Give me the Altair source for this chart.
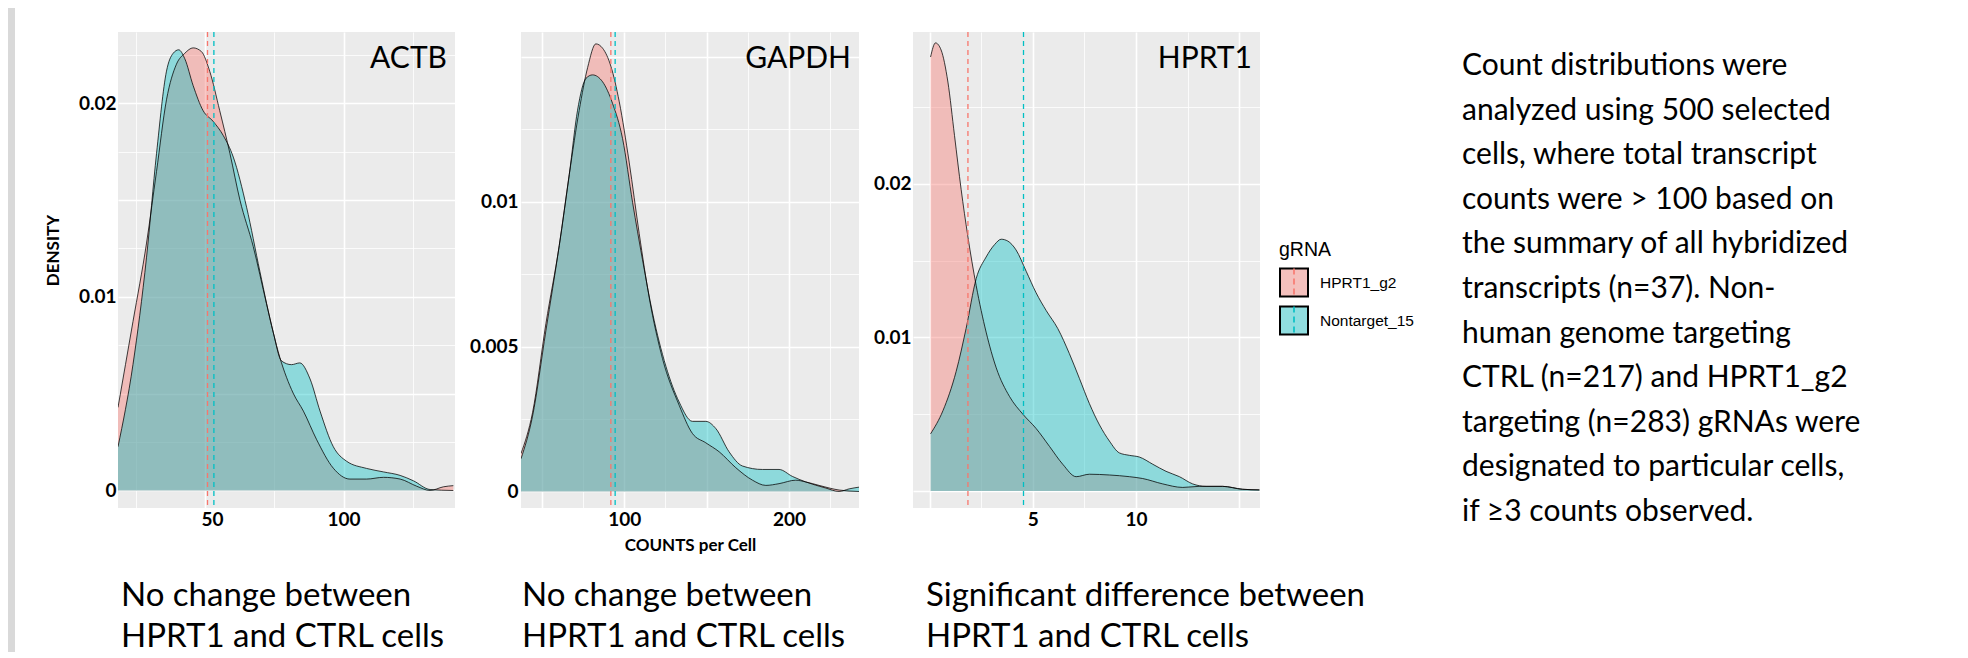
import altair as alt
import pandas as pd

GROUPS = ["HPRT1_g2", "Nontarget_15"]
LINE_COLORS = ["#F8766D", "#00BFC4"]
KEY_COLORS = ["#F4C0BD", "#91DEE0"]

# ---------------- ACTB ----------------
ACTB_H_X = [18.6, 24.0, 28.9, 32.5, 36.1, 39.7, 42.7, 45.7, 48.7, 51.7, 55.3, 59.0, 62.6, 67.4,
            72.2, 77.0, 81.8, 85.5, 90.3, 96.3, 102.3, 108.3, 114.4, 120.4, 126.4, 131.2, 136.0, 139.6]
ACTB_H_Y = [0.00429, 0.00872, 0.01278, 0.01648, 0.02018, 0.02202, 0.02258, 0.02286, 0.02267, 0.02165,
            0.01962, 0.0174, 0.015, 0.0126, 0.00964, 0.00687, 0.00503, 0.0041, 0.00262, 0.00115,
            0.00059, 0.00059, 0.00068, 0.00059, 0.00022, 0.0, 0.00019, 0.00025]
ACTB_N_X = [18.6, 24.0, 28.9, 32.5, 36.1, 38.5, 40.5, 42.7, 45.7, 49.3, 52.9, 56.6, 60.2, 65.0, 69.8,
            74.6, 77.6, 81.2, 84.2, 87.9, 91.5, 96.3, 101.1, 108.3, 114.4, 120.4, 125.2, 131.2, 139.6]
ACTB_N_Y = [0.00226, 0.0065, 0.01205, 0.0174, 0.02166, 0.02258, 0.02276, 0.0223, 0.02092, 0.01962,
            0.01907, 0.01833, 0.01722, 0.01463, 0.01131, 0.00817, 0.00669, 0.0065, 0.00659, 0.00576,
            0.0041, 0.00226, 0.00151, 0.00114, 0.00096, 0.00078, 0.0005, 0.00005, 0.0]
ACTB_MEANS = [50.9, 53.2]

# ---------------- GAPDH ----------------
GAPDH_H_X = [37.4, 44.4, 52.5, 60.6, 66.7, 72.7, 77.8, 82.8, 86.9, 91.9, 97.0, 103.0, 109.1, 115.2,
             123.2, 133.3, 141.4, 149.5, 157.6, 167.7, 177.8, 185.9, 193.9, 204.0, 210.1, 218.2, 230.3, 242.4]
GAPDH_H_Y = [0.00131, 0.00272, 0.00579, 0.00849, 0.01095, 0.01316, 0.01463, 0.01545, 0.0153, 0.01468,
             0.01345, 0.01137, 0.0089, 0.00668, 0.00459, 0.00298, 0.002, 0.00168, 0.00137, 0.00082,
             0.00039, 0.00021, 0.00027, 0.00039, 0.00033, 0.00021, 0.00005, 0.0]
GAPDH_N_X = [37.4, 44.4, 52.5, 60.6, 66.7, 71.7, 76.8, 80.8, 86.9, 92.9, 99.0, 105.1, 111.1, 117.2,
             125.3, 133.3, 141.4, 149.5, 155.6, 163.6, 171.7, 183.8, 193.9, 202.0, 210.1, 222.2, 230.3, 236.4, 242.4]
GAPDH_N_Y = [0.00113, 0.0026, 0.00555, 0.00849, 0.01095, 0.01316, 0.01426, 0.01438, 0.01414, 0.0134,
             0.01218, 0.00997, 0.008, 0.00616, 0.00432, 0.00309, 0.00242, 0.00242, 0.00217, 0.00137,
             0.00088, 0.00076, 0.00076, 0.00052, 0.00033, 0.00012, 0.0, 0.00009, 0.00015]
GAPDH_MEANS = [91.9, 94.5]

# ---------------- HPRT1 ----------------
HPRT1_H_X = [0.05, 0.29, 0.56, 0.89, 1.21, 1.53, 1.85, 2.26, 2.74, 3.23, 3.87, 4.52, 5.16, 5.81, 6.45,
             7.1, 7.74, 8.71, 9.68, 10.32, 11.29, 12.26, 13.06, 14.19, 15.16, 15.97]
HPRT1_H_Y = [0.02827, 0.02919, 0.02873, 0.02664, 0.02315, 0.01965, 0.01663, 0.01337, 0.01035, 0.00802,
             0.00616, 0.005, 0.00407, 0.0029, 0.00174, 0.00093, 0.00109, 0.00104, 0.00093, 0.00081,
             0.00046, 0.00023, 0.0003, 0.0003, 0.00011, 0.00007]
HPRT1_N_X = [0.05, 0.65, 1.29, 1.77, 2.26, 2.74, 3.15, 3.47, 3.79, 4.19, 4.68, 5.16, 5.65, 6.21, 6.77,
             7.26, 7.74, 8.23, 8.71, 9.19, 9.68, 10.16, 10.81, 11.45, 12.1, 12.74, 13.39, 14.19, 15.16, 15.97]
HPRT1_N_Y = [0.00372, 0.00523, 0.00779, 0.01058, 0.01384, 0.01524, 0.01605, 0.0164, 0.01628, 0.0157,
             0.01431, 0.01291, 0.01175, 0.01058, 0.00895, 0.00732, 0.00569, 0.0043, 0.00325, 0.00248,
             0.00232, 0.00221, 0.00174, 0.00128, 0.00093, 0.00046, 0.0003, 0.0003, 0.00011, 0.00007]
HPRT1_MEANS = [1.86, 4.55]

# ---------------- axes: grid values and labels ----------------
ACTB_XGRID = [25, 50, 75, 100, 125]
ACTB_XMAJOR = [50, 100]
ACTB_XLAB = [50, 100]
ACTB_XLAB_TXT = ["50", "100"]
ACTB_YGRID = [0, 0.0025, 0.005, 0.0075, 0.01, 0.0125, 0.015, 0.0175, 0.02, 0.0225]
ACTB_YMAJOR = [0, 0.005, 0.01, 0.015, 0.02]
ACTB_YLAB = [0, 0.01, 0.02]
ACTB_YLAB_TXT = ["0", "0.01", "0.02"]

GAPDH_XGRID = [50, 75, 100, 125, 150, 175, 200, 225]
GAPDH_XMAJOR = [50, 100, 150, 200]
GAPDH_XLAB = [100, 200]
GAPDH_XLAB_TXT = ["100", "200"]
GAPDH_YGRID = [0, 0.0025, 0.005, 0.0075, 0.01, 0.0125, 0.015]
GAPDH_YMAJOR = [0, 0.005, 0.01, 0.015]
GAPDH_YLAB = [0, 0.005, 0.01]
GAPDH_YLAB_TXT = ["0", "0.005", "0.01"]

HPRT1_XGRID = [0, 2.5, 5, 7.5, 10, 12.5, 15]
HPRT1_XMAJOR = [0, 5, 10, 15]
HPRT1_XLAB = [5, 10]
HPRT1_XLAB_TXT = ["5", "10"]
HPRT1_YGRID = [0, 0.005, 0.01, 0.015, 0.02, 0.025]
HPRT1_YMAJOR = [0, 0.01, 0.02]
HPRT1_YLAB = [0.01, 0.02]
HPRT1_YLAB_TXT = ["0.01", "0.02"]

CAPTION_SAME = ["No change between", "HPRT1 and CTRL cells"]
CAPTION_DIFF = ["Significant difference between", "HPRT1 and CTRL cells"]
DESCRIPTION = [
    "Count distributions were",
    "analyzed using 500 selected",
    "cells, where total transcript",
    "counts were > 100 based on",
    "the summary of all hybridized",
    "transcripts (n=37). Non-",
    "human genome targeting",
    "CTRL (n=217) and HPRT1_g2",
    "targeting (n=283) gRNAs were",
    "designated to particular cells,",
    "if \u22653 counts observed.",
]

H = 476
FONT = "Lato"
LEG_X = 1161   # relative to the top-level group origin (= first plot's origin)
LEG_Y = 209

LEGEND_COMMON = dict(
    title="gRNA", orient="none", legendX=LEG_X, legendY=LEG_Y,
    titleFont="Liberation Sans", titleFontSize=19.5, titleFontWeight="normal", titlePadding=7,
    labelFont="Liberation Sans", labelFontSize=15.5, labelOffset=11, symbolSize=784,
)


def lab_expr(vals, texts):
    expr = "''"
    for v, t in reversed(list(zip(vals, texts))):
        expr = f"datum.value == {v} ? '{t}' : ({expr})"
    return expr


def grid_width(major):
    return {"condition": {"test": f"indexof({list(major)}, datum.value) >= 0", "value": 1.6}, "value": 0.8}


def one():
    return pd.DataFrame({"t": [0]})


def make_panel(name, hx, hy, nx, ny, means, xdom, ydom, w,
               xgrid, xmajor, xlab, xlabtxt, ygrid, ymajor, ylab, ylabtxt,
               caption, cap_dx, ylab_pad, xtitle=None, ytitle=None,
               label_offset=None, legend=False, extra=None):
    xaxis_kw = dict(values=xgrid, labelExpr=lab_expr(xlab, xlabtxt), grid=True, gridColor="white",
                    gridWidth=grid_width(xmajor), ticks=False, domain=False, labelFont=FONT,
                    labelFontWeight="bold", labelFontSize=19, labelColor="black", labelPadding=2,
                    labelOverlap=False, labelFlush=False, title=xtitle)
    if label_offset is not None:
        xaxis_kw["labelOffset"] = label_offset
    if xtitle:
        xaxis_kw.update(titleFont=FONT, titleFontWeight="bold", titleFontSize=17,
                        titleColor="black", titlePadding=8)
    yaxis_kw = dict(values=ygrid, labelExpr=lab_expr(ylab, ylabtxt), grid=True, gridColor="white",
                    gridWidth=grid_width(ymajor), ticks=False, domain=False, labelFont=FONT,
                    labelFontWeight="bold", labelFontSize=19, labelColor="black",
                    labelPadding=ylab_pad, labelOverlap=False, labelFlush=False, title=ytitle)
    if ytitle:
        yaxis_kw.update(titleFont=FONT, titleFontWeight="bold", titleFontSize=17, titleColor="black",
                        titleAngle=270, titleX=-65, titleY=218, titleAlign="center",
                        titleBaseline="middle")

    xenc = alt.X("x:Q", scale=alt.Scale(domain=xdom, nice=False, zero=False), axis=alt.Axis(**xaxis_kw))
    yenc = alt.Y("v:Q", scale=alt.Scale(domain=ydom, nice=False, zero=False), axis=alt.Axis(**yaxis_kw))
    # data-driven domains so the (disabled) fill legend never merges with the key legend
    fill = alt.Fill("g:N", scale=alt.Scale(range=LINE_COLORS), legend=None)
    stroke_legend = alt.Legend(
        titleColor="transparent", labelColor="transparent", symbolType="M0,-1L0,1",
        symbolStrokeWidth=1.6, symbolDash=[6, 4], zindex=2, **LEGEND_COMMON)
    stroke = alt.Stroke("g:N", scale=alt.Scale(range=LINE_COLORS), legend=stroke_legend)

    df_h = pd.DataFrame({"x": hx, "v": hy, "g": GROUPS[0]})
    df_n = pd.DataFrame({"x": nx, "v": ny, "g": GROUPS[1]})
    df_all = pd.concat([df_h, df_n], ignore_index=True)
    df_m = pd.DataFrame({"x": means, "g": GROUPS})

    area_h = alt.Chart(df_h).mark_area(fillOpacity=0.4, interpolate="monotone", clip=True).encode(
        x=xenc, y=yenc, y2=alt.datum(0), fill=fill)
    area_n = alt.Chart(df_n).mark_area(fillOpacity=0.4, interpolate="monotone", clip=True).encode(
        x=xenc, y=yenc, y2=alt.datum(0), fill=fill)
    lines = alt.Chart(df_all).mark_line(color="black", strokeWidth=1, opacity=0.75,
                                        interpolate="monotone", clip=True).encode(
        x=xenc, y=yenc, detail="g:N")
    rules = alt.Chart(df_m).mark_rule(strokeDash=[5, 4], strokeWidth=1.3).encode(x=xenc, stroke=stroke)
    title = alt.Chart(pd.DataFrame({"t": [name]})).mark_text(
        font=FONT, fontSize=30, align="right", baseline="alphabetic", color="black").encode(
        text="t:N", x=alt.value(w - 8), y=alt.value(36))
    cap = alt.Chart(one()).mark_text(
        font=FONT, fontSize=33, align="left", baseline="alphabetic", lineHeight=41.5,
        color="black").encode(text=alt.value(caption), x=alt.value(cap_dx), y=alt.value(573.5))

    layers = []
    if extra:
        layers += extra
    layers += [area_h, area_n, lines, rules, title, cap]

    if legend:
        key = alt.Chart(pd.DataFrame({"g": GROUPS})).mark_square(
            filled=True, opacity=0).encode(
            x=alt.value(0), y=alt.value(0),
            color=alt.Color("g:N", scale=alt.Scale(domain=GROUPS, range=KEY_COLORS),
                            legend=alt.Legend(
                                titleColor="black", labelColor="black", symbolType="square",
                                symbolStrokeColor="black", symbolStrokeWidth=2, symbolOpacity=1,
                                zindex=1, **LEGEND_COMMON)))
        desc = alt.Chart(one()).mark_text(
            font=FONT, fontSize=30, align="left", baseline="alphabetic", lineHeight=44.6,
            color="black").encode(text=alt.value(DESCRIPTION), x=alt.value(549), y=alt.value(43))
        layers += [key, desc]

    return alt.layer(*layers).properties(width=w, height=H)


# slide-edge strip at the far left; white spacers keep every panel's top extent equal
strip = alt.Chart(one()).mark_rect(color="#D9D9D9").encode(
    x=alt.value(-110), x2=alt.value(-103), y=alt.value(-24), y2=alt.value(620))
spacer = alt.Chart(one()).mark_rect(color="white").encode(
    x=alt.value(0), x2=alt.value(1), y=alt.value(-24), y2=alt.value(-23))

p1 = make_panel("ACTB", ACTB_H_X, ACTB_H_Y, ACTB_N_X, ACTB_N_Y, ACTB_MEANS,
                [18.6, 140.2], [-0.000904, 0.02368], 337,
                ACTB_XGRID, ACTB_XMAJOR, ACTB_XLAB, ACTB_XLAB_TXT,
                ACTB_YGRID, ACTB_YMAJOR, ACTB_YLAB, ACTB_YLAB_TXT,
                CAPTION_SAME, 3, 2, ytitle="DENSITY",
                label_offset={"condition": {"test": "datum.value == 50", "value": 7}, "value": 0},
                extra=[strip])
p2 = make_panel("GAPDH", GAPDH_H_X, GAPDH_H_Y, GAPDH_N_X, GAPDH_N_Y, GAPDH_MEANS,
                [37.4, 242.4], [-0.00057, 0.01586], 338,
                GAPDH_XGRID, GAPDH_XMAJOR, GAPDH_XLAB, GAPDH_XLAB_TXT,
                GAPDH_YGRID, GAPDH_YMAJOR, GAPDH_YLAB, GAPDH_YLAB_TXT,
                CAPTION_SAME, 1, 3, xtitle="COUNTS per Cell", extra=[spacer])
p3 = make_panel("HPRT1", HPRT1_H_X, HPRT1_H_Y, HPRT1_N_X, HPRT1_N_Y, HPRT1_MEANS,
                [-0.8, 16.0], [-0.00111, 0.0299], 347,
                HPRT1_XGRID, HPRT1_XMAJOR, HPRT1_XLAB, HPRT1_XLAB_TXT,
                HPRT1_YGRID, HPRT1_YMAJOR, HPRT1_YLAB, HPRT1_YLAB_TXT,
                CAPTION_DIFF, 13, 2, legend=True, extra=[spacer])

chart = alt.hconcat(p1, p2, p3, spacing=14).properties(
    padding={"top": 0, "left": 0, "right": 0, "bottom": 0}
).configure_view(
    fill="#EBEBEB", strokeWidth=0
)

chart.save("out.html", embed_options={"renderer": "svg", "actions": False})
